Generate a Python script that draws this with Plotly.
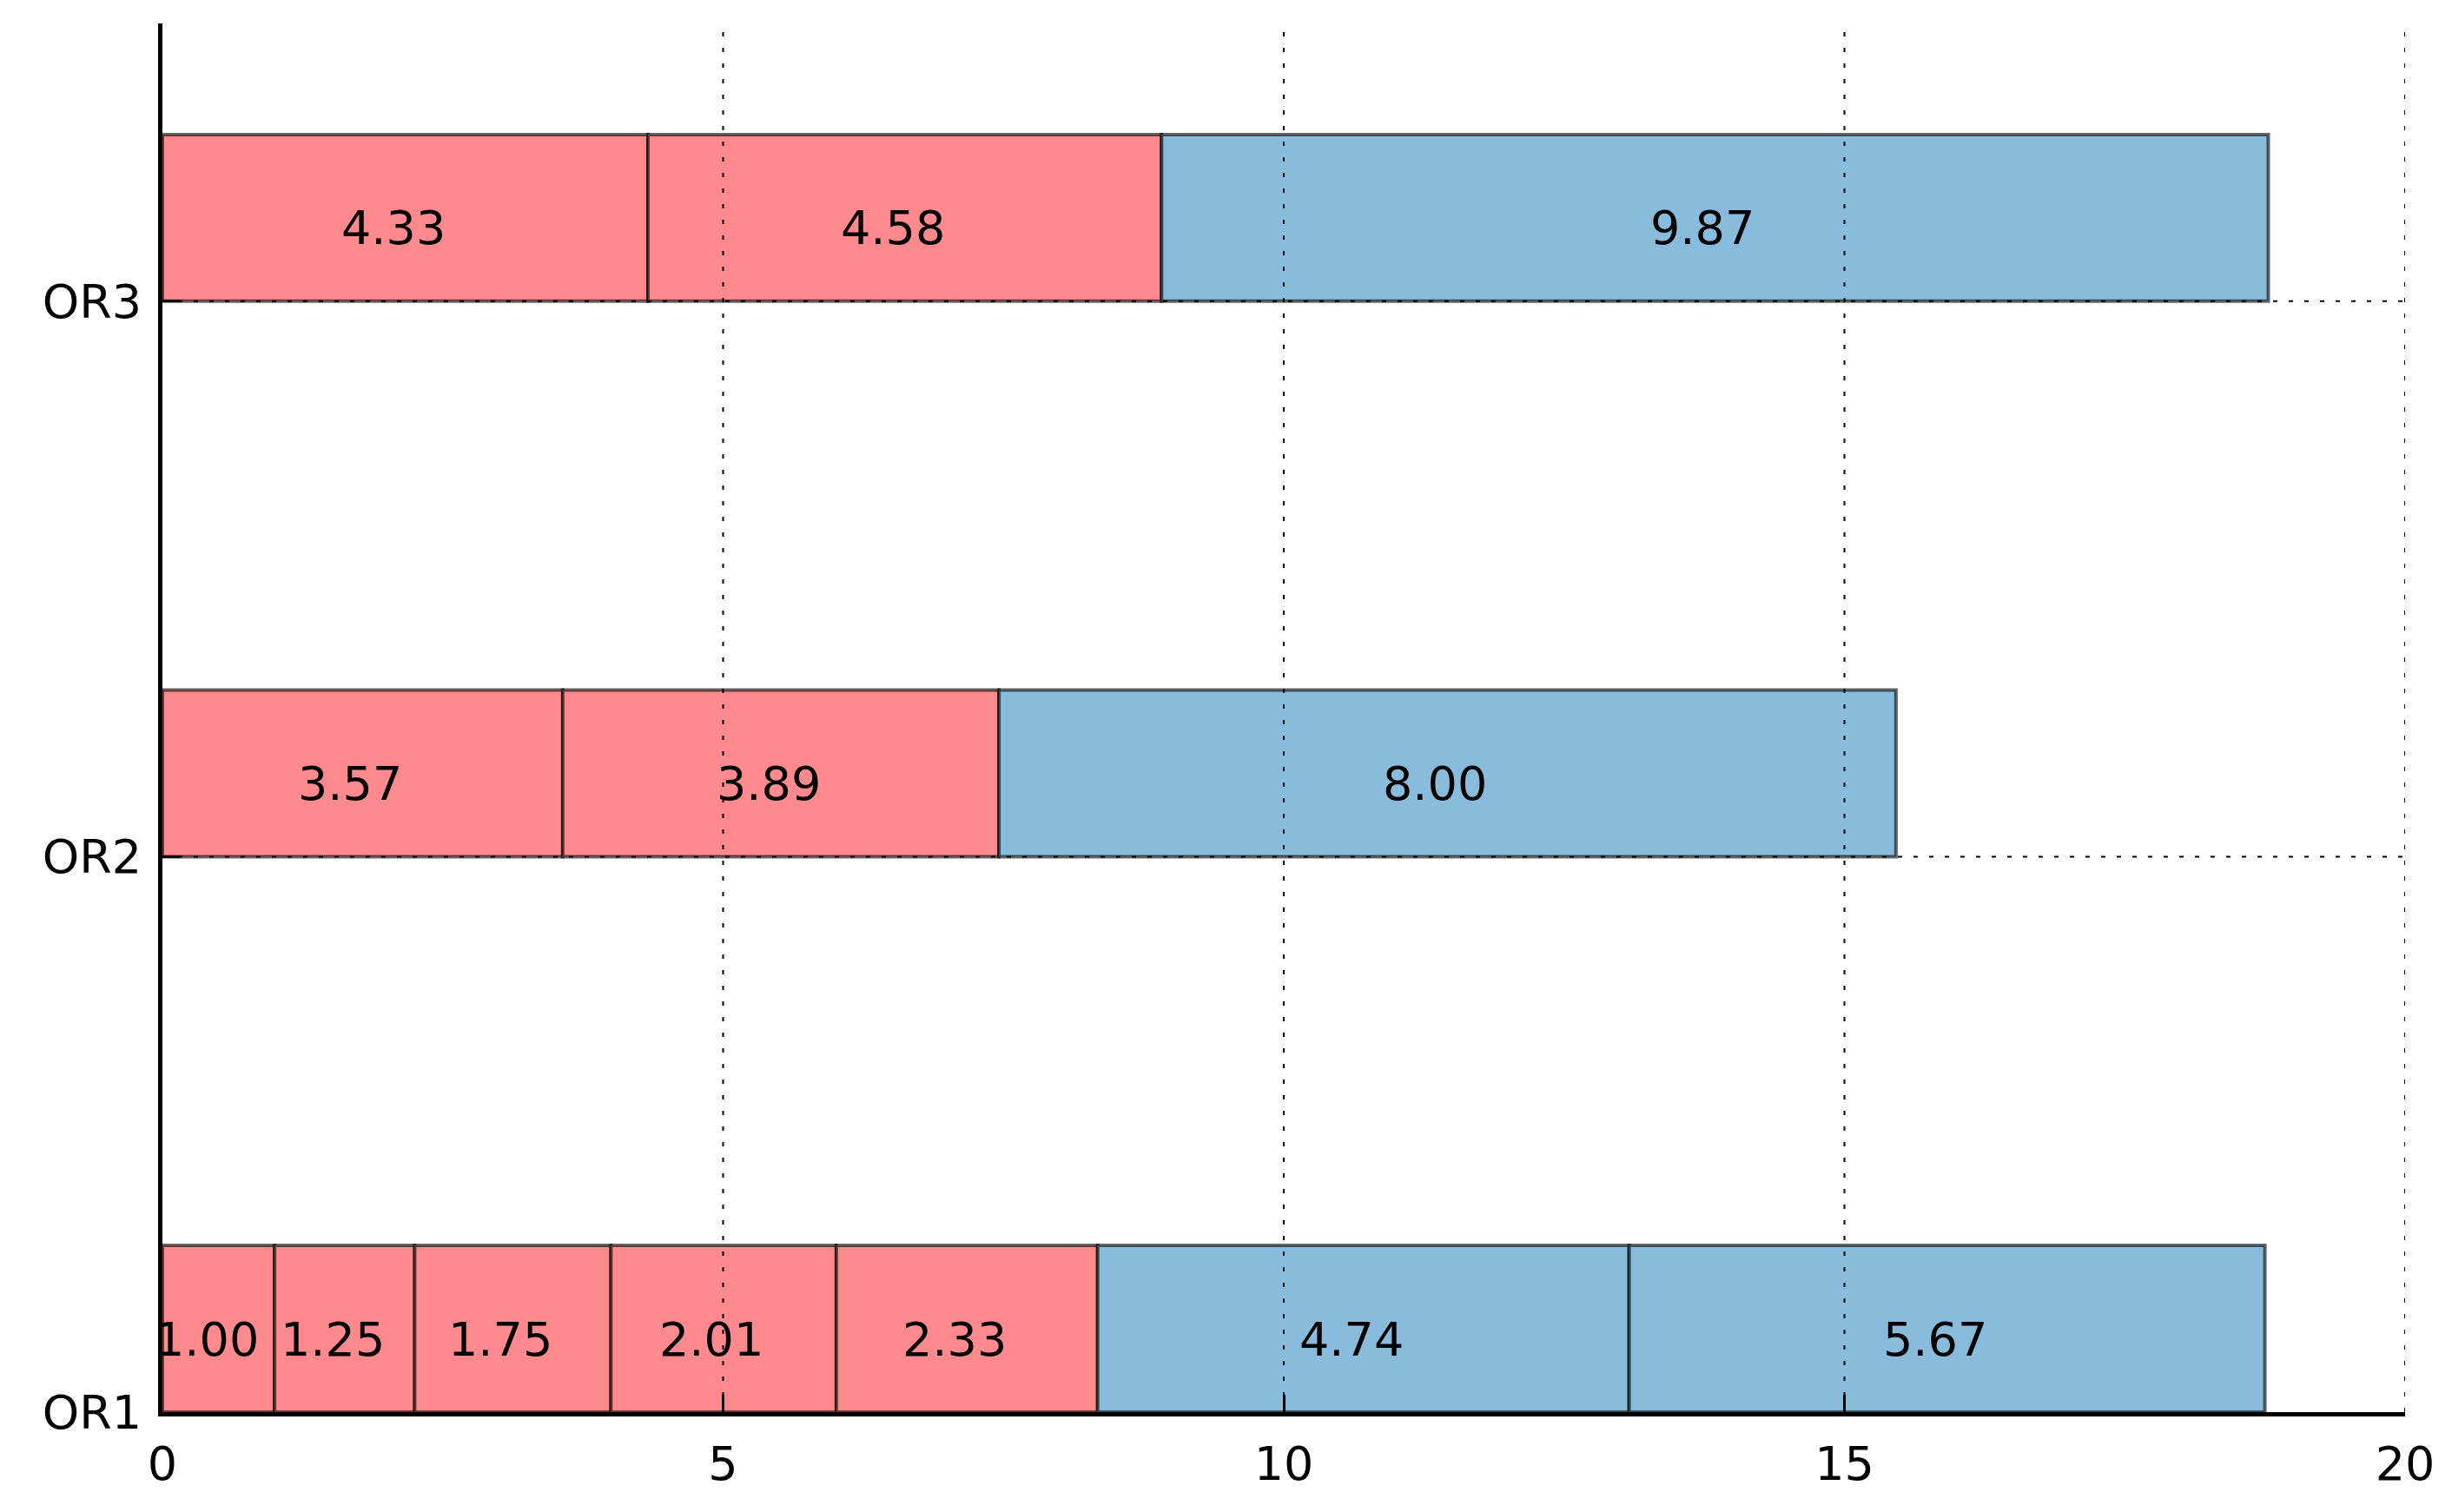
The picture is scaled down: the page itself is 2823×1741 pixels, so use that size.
import plotly.graph_objects as go

categories = ["OR1", "OR2", "OR3"]
red_values = [[1.00, 1.25, 1.75, 2.01, 2.33], [3.57, 3.89], [4.33, 4.58]]
blue_values = [[4.74, 5.67], [8.00], [9.87]]
x_ticks = [0, 5, 10, 15, 20]

RED = "#FF8A8E"
BLUE = "#88BBDC"
FONT = "DejaVu Sans"
FS = 54
BAR_H = 0.3
GRID_DASH = "5px,13px"

fig = go.Figure()
annotations = []
for i, cat in enumerate(categories):
    segs = [(v, RED) for v in red_values[i]] + [(v, BLUE) for v in blue_values[i]]
    left = 0.0
    xs, bases, cols = [], [], []
    for v, c in segs:
        xs.append(v)
        bases.append(left)
        cols.append(c)
        annotations.append(dict(
            x=left + v / 2, y=i + BAR_H / 2, xref="x", yref="y",
            text=f"{v:.2f}", showarrow=False, xshift=-14, yshift=-12,
            font=dict(family=FONT, size=FS, color="black")))
        left += v
    fig.add_trace(go.Bar(
        orientation="h", y=[i] * len(xs), x=xs, base=bases,
        width=BAR_H, offset=0,
        marker=dict(color=cols, line=dict(color="rgba(0,0,0,0.6)", width=4)),
        showlegend=False, hoverinfo="skip"))

# grid lines drawn above the bars (as in the reference)
shapes = []
for t in x_ticks[1:]:
    shapes.append(dict(type="line", xref="x", yref="paper", x0=t, x1=t, y0=0, y1=1,
                       line=dict(color="black", width=2, dash=GRID_DASH), layer="above"))
for j in range(1, len(categories)):
    shapes.append(dict(type="line", xref="paper", yref="y", x0=0, x1=1, y0=j, y1=j,
                       line=dict(color="black", width=2, dash=GRID_DASH), layer="above"))

fig.update_layout(
    width=2823, height=1741,
    margin=dict(l=179, r=62, t=19, b=123),
    paper_bgcolor="white", plot_bgcolor="white",
    barmode="overlay",
    font=dict(family=FONT, size=FS, color="black"),
    annotations=annotations,
    shapes=shapes,
)
fig.update_xaxes(
    range=[0, 20], tickvals=x_ticks, ticktext=[str(t) for t in x_ticks],
    showgrid=False,
    showline=True, linecolor="black", linewidth=5, zeroline=False,
    ticks="inside", ticklen=20, tickwidth=3, tickcolor="black",
    layer="above traces", ticklabelstandoff=8,
    tickfont=dict(family=FONT, size=FS, color="black"),
)
fig.update_yaxes(
    range=[0, 2.5], tickvals=list(range(len(categories))), ticktext=categories,
    showgrid=False,
    showline=True, linecolor="black", linewidth=5, zeroline=False,
    ticks="inside", ticklen=20, tickwidth=3, tickcolor="black",
    layer="above traces", ticklabelstandoff=8,
    tickfont=dict(family=FONT, size=FS, color="black"),
)

fig.write_html("out.html")
